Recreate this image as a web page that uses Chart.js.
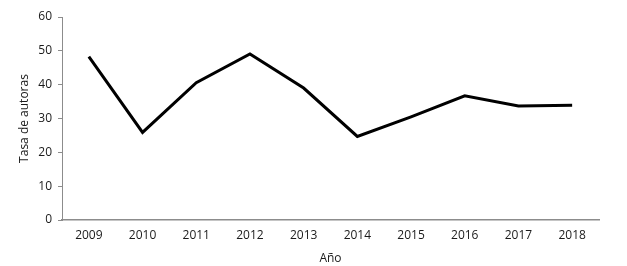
<!DOCTYPE html>
<html>
<head>
<meta charset="utf-8">
<script src="https://cdn.jsdelivr.net/npm/chart.js@4"></script>
<style>
  html, body { margin: 0; padding: 0; background: #fff; }
  #wrap { width: 627px; height: 266px; }
</style>
</head>
<body>
<div id="wrap"><canvas id="chart" width="627" height="266"></canvas></div>
<script>
// Data
const years = ['2009', '2010', '2011', '2012', '2013', '2014', '2015', '2016', '2017', '2018'];
const authorRate = [48.3, 25.9, 40.6, 49.1, 39.0, 24.7, 30.5, 36.7, 33.7, 33.9];
const yTicks = [0, 10, 20, 30, 40, 50, 60];

const axisGray = '#8c8c8c';
const textColor = '#1a1a1a';
const fontFamily = "'Open Sans', 'Liberation Sans', sans-serif";

Chart.defaults.font.family = fontFamily;
Chart.defaults.font.size = 12;
Chart.defaults.color = textColor;

const ctx = document.getElementById('chart').getContext('2d');
new Chart(ctx, {
    type: 'line',
    data: {
        labels: years,
        datasets: [{
            label: 'Tasa de autoras',
            data: authorRate,
            borderColor: '#000',
            borderWidth: 3,
            pointRadius: 0,
            tension: 0,
            fill: false
        }]
    },
    options: {
        responsive: false,
        animation: false,
        layout: { padding: { top: 17, right: 28, bottom: 0, left: 17 } },
        plugins: {
            legend: { display: false },
            tooltip: { enabled: false }
        },
        scales: {
            x: {
                offset: true,
                grid: { display: false, drawTicks: false },
                border: { color: axisGray, width: 1.5 },
                ticks: { padding: 8, maxRotation: 0 },
                title: { display: true, text: 'Año', padding: { top: 2, bottom: 0 } },
                afterFit: function(scale) { scale.height = 46; }
            },
            y: {
                min: 0,
                max: 60,
                afterBuildTicks: function(scale) {
                    scale.ticks = yTicks.map(v => ({ value: v }));
                },
                grid: { drawOnChartArea: false, drawTicks: true, tickLength: 4, color: axisGray },
                border: { color: axisGray, width: 1 },
                ticks: { padding: 6 },
                title: { display: true, text: 'Tasa de autoras', padding: { top: 0, bottom: 4 } },
                afterFit: function(scale) { scale.width = 45; }
            }
        }
    }
});
</script>
</body>
</html>
